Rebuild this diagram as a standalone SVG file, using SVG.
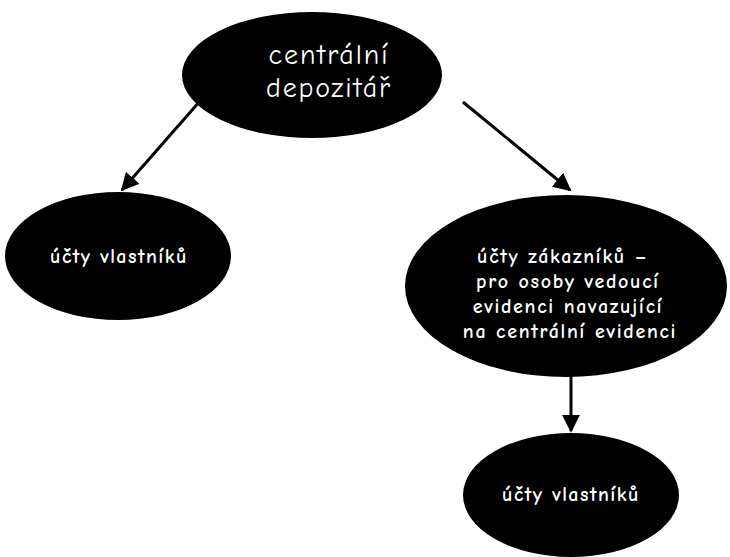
<svg xmlns="http://www.w3.org/2000/svg" width="730" height="557" viewBox="0 0 730 557">
<style>
.node{fill:#000}
.t{fill:#fff;font-family:"Comic Neue","Liberation Sans",Arial,sans-serif;text-anchor:middle}
.big{font-size:28px;letter-spacing:1.9px}
.b{font-size:20px;font-weight:bold;letter-spacing:1.5px}
.m{font-size:20px;font-weight:bold;letter-spacing:1.7px}
.c{stroke:#000;stroke-width:3;fill:none;marker-end:url(#ah)}
</style>
<defs>
<marker id="ah" viewBox="0 0 10 10" refX="9" refY="5" markerWidth="6" markerHeight="6" orient="auto" markerUnits="strokeWidth">
<path d="M0,0 L10,5 L0,10 z" fill="#000"/>
</marker>
</defs>
<rect width="730" height="557" fill="#fff"/>
<g id="connectors">
<line class="c" x1="200" y1="101" x2="122" y2="190"/>
<line class="c" x1="463" y1="102" x2="570" y2="190"/>
<line class="c" x1="571" y1="376" x2="571" y2="431"/>
</g>
<g id="n-central">
<ellipse class="node" cx="312" cy="75" rx="130" ry="63"/>
<text class="t big" x="329" y="64">centrální</text>
<text class="t big" x="329" y="97">depozitář</text>
</g>
<g id="n-left">
<ellipse class="node" cx="118" cy="256" rx="113" ry="64"/>
<text class="t b" x="119" y="263">účty vlastníků</text>
</g>
<g id="n-right">
<ellipse class="node" cx="566" cy="286" rx="161" ry="91"/>
<text class="t m" x="563" y="263">účty zákazníků –</text>
<text class="t m" x="568" y="288">pro osoby vedoucí</text>
<text class="t m" x="568" y="313">evidenci navazující</text>
<text class="t m" x="570" y="338">na centrální evidenci</text>
</g>
<g id="n-bottom">
<ellipse class="node" cx="571" cy="495" rx="108" ry="62"/>
<text class="t b" x="571" y="501">účty vlastníků</text>
</g>
</svg>
